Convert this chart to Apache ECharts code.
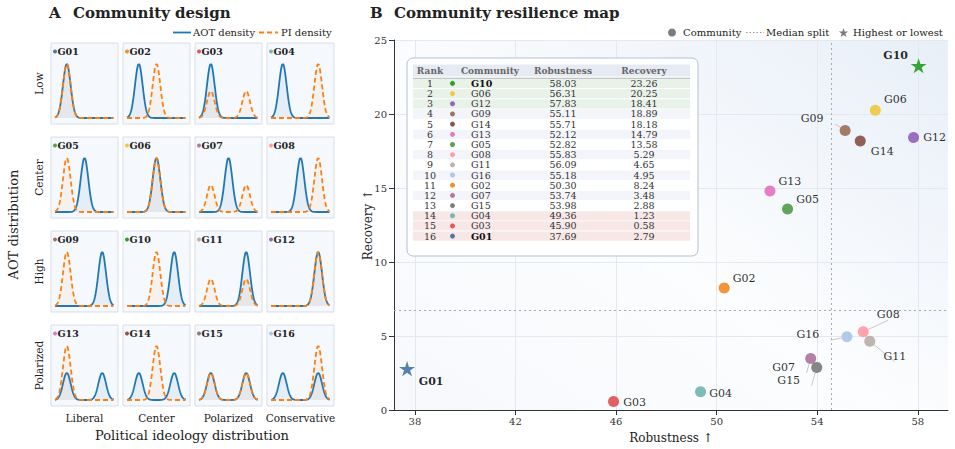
<!DOCTYPE html>
<html><head><meta charset="utf-8">
<script src="https://cdn.jsdelivr.net/npm/echarts@6/dist/echarts.min.js"></script>
<style>html,body{margin:0;padding:0;background:#fff}#c{width:955px;height:449px}</style>
</head><body><div id="c"></div>
<script>
// ---------------- DATA ----------------
const communities = ['G01','G02','G03','G04','G05','G06','G07','G08','G09','G10','G11','G12','G13','G14','G15','G16'];
const robustness  = [37.69, 50.30, 45.90, 49.36, 52.82, 56.31, 53.74, 55.83, 55.11, 58.03, 56.09, 57.83, 52.12, 55.71, 53.98, 55.18];
const recovery    = [2.79, 8.24, 0.58, 1.23, 13.58, 20.25, 3.48, 5.29, 18.89, 23.26, 4.65, 18.41, 14.79, 18.18, 2.88, 4.95];
const communityColors = ['#4e79a7','#f28e2b','#e15759','#76b7b2','#59a14f','#edc948','#b07aa1','#ff9da7','#9c755f','#2ca02c','#bab0ac','#9467bd','#e377c2','#8c564b','#7f7f7f','#aec7e8'];
const aotLevels = ['Low','Center','High','Polarized'];          // rows
const piLevels  = ['Liberal','Center','Polarized','Conservative']; // columns
const aotModes  = [[0.2],[0.5],[0.8],[0.2,0.8]];
const piModes   = [[0.2],[0.5],[0.2,0.8],[0.8]];
const densitySigma = 0.065;
const xTicks = [38,42,46,50,54,58];
const yTicks = [0,5,10,15,20,25];

// ---------------- STYLE / LAYOUT ----------------
const FONT = 'DejaVu Serif';
const labelOffsets = { G01:[24,13], G02:[20,-10], G03:[21,1], G04:[20,2], G05:[20,-10], G06:[20,-11], G07:[-27,9], G08:[25,-17],
  G09:[-33,-12], G10:[-23,-10], G11:[25,15], G12:[21,0], G13:[20,-10], G14:[22,11], G15:[-28,13], G16:[-39,-2] };
const leaderLabels = ['G07','G08','G09','G11','G15','G16'];

function starPts(cx, cy, R, r) {
  const p = [];
  for (let k = 0; k < 10; k++) {
    const a = -Math.PI / 2 + k * Math.PI / 5, rad = k % 2 ? r : R;
    p.push([cx + rad * Math.cos(a), cy + rad * Math.sin(a)]);
  }
  return p;
}
const starPath = 'path://' + starPts(50, 50, 50, 19.1).map((p, i) => (i ? 'L' : 'M') + p[0].toFixed(2) + ' ' + p[1].toFixed(2)).join(' ') + ' Z';

const chart = echarts.init(document.getElementById('c'), null, {renderer: 'svg', width: 955, height: 449});
const grids = [], xAxes = [], yAxes = [], series = [], graphics = [];

function txt(text, x, y, o) {
  o = o || {};
  return { type: 'text', x: x, y: y, rotation: o.rot || 0, z: 20, silent: true,
    style: { text: text, fontSize: o.size || 10, fontFamily: FONT, fontWeight: o.bold ? 'bold' : 'normal',
      fill: o.color || '#222', align: o.align || 'left', verticalAlign: 'middle' } };
}

// ---------------- PANEL A: small multiples ----------------
const xs = []; for (let k = 0; k <= 200; k++) xs.push(k / 200);
function density(modes, x) {
  let s = 0; modes.forEach(m => { s += Math.exp(-((x - m) * (x - m)) / (2 * densitySigma * densitySigma)); });
  return s / modes.length;
}
for (let r = 0; r < 4; r++) {
  for (let c = 0; c < 4; c++) {
    const i = r * 4 + c;
    const L = 51 + c * 72, T = 43 + r * 94;
    grids.push({ left: L, top: T, width: 67, height: 81, show: true, backgroundColor: '#f5f8fc', borderColor: '#d7dee9', borderWidth: 1 });
    xAxes.push({ type: 'value', gridIndex: i, min: -0.068, max: 1.068, show: false });
    yAxes.push({ type: 'value', gridIndex: i, min: -0.111, max: 1.389, show: false });
    series.push({ type: 'line', xAxisIndex: i, yAxisIndex: i, silent: true, symbol: 'none', z: 2,
      data: xs.map(x => [x, density(aotModes[r], x)]),
      lineStyle: { color: '#1f77b4', width: 1.8 }, areaStyle: { color: 'rgba(31,119,180,0.10)' } });
    series.push({ type: 'line', xAxisIndex: i, yAxisIndex: i, silent: true, symbol: 'none', z: 3,
      data: xs.map(x => [x, density(piModes[c], x)]),
      lineStyle: { color: '#ff7f0e', width: 1.8, type: [5, 3] }, areaStyle: { color: 'rgba(255,127,14,0.08)' } });
    graphics.push({ type: 'circle', z: 20, silent: true, shape: { cx: L + 4, cy: T + 8.5, r: 2 }, style: { fill: communityColors[i] } });
    graphics.push(txt(communities[i], L + 6.5, T + 8.5, { bold: true, size: 9.5 }));
  }
}
aotLevels.forEach((lv, r) => graphics.push(txt(lv, 39, 43 + r * 94 + 40.5, { rot: Math.PI / 2, align: 'center', size: 10.5 })));
piLevels.forEach((lv, c) => graphics.push(txt(lv, 51 + c * 72 + 33.5, 418, { align: 'center', size: 10.5 })));
graphics.push(txt('AOT distribution', 13, 224.5, { rot: Math.PI / 2, align: 'center', size: 13 }));
graphics.push(txt('Political ideology distribution', 192, 435, { align: 'center', size: 13 }));
graphics.push(txt('A', 49, 13, { bold: true, size: 15 }));
graphics.push(txt('Community design', 73, 13, { bold: true, size: 15 }));
// legend A
graphics.push({ type: 'line', z: 20, silent: true, shape: { x1: 173, y1: 32.5, x2: 191, y2: 32.5 }, style: { stroke: '#1f77b4', lineWidth: 1.8 } });
graphics.push(txt('AOT density', 193, 32.5, { size: 10 }));
graphics.push({ type: 'line', z: 20, silent: true, shape: { x1: 259, y1: 32.5, x2: 278, y2: 32.5 }, style: { stroke: '#ff7f0e', lineWidth: 1.8, lineDash: [5, 3] } });
graphics.push(txt('PI density', 281, 32.5, { size: 10 }));

// ---------------- PANEL B: scatter ----------------
const score = communities.map((_, i) => robustness[i] + recovery[i]);
const order = communities.map((_, i) => i).sort((a, b) => score[b] - score[a]);
const best = order[0], worst = order[order.length - 1];
function median(a) { const s = a.slice().sort((p, q) => p - q), n = s.length; return n % 2 ? s[(n - 1) / 2] : (s[n / 2 - 1] + s[n / 2]) / 2; }
const medR = median(robustness), medC = median(recovery);

const G = 16;
grids.push({ left: 394, top: 40, width: 554, height: 370, show: true, borderWidth: 0,
  backgroundColor: { type: 'linear', x: 0, y: 1, x2: 1, y2: 0, colorStops: [{ offset: 0, color: '#f7f8fc' }, { offset: 0.45, color: '#fcfdfe' }, { offset: 1, color: '#e8eff8' }] } });
const axisCommon = {
  axisLine: { show: true, lineStyle: { color: '#333', width: 1 } },
  axisTick: { show: true, length: 5, lineStyle: { color: '#333' } },
  splitLine: { show: true, lineStyle: { color: '#e4e8ef', width: 1 } },
  nameLocation: 'middle', nameMoveOverlap: false, nameTextStyle: { fontFamily: FONT, fontSize: 12, color: '#222' }
};
xAxes.push(Object.assign({}, axisCommon, { type: 'value', gridIndex: G, min: 37.17, max: 59.2, name: 'Robustness ↑', nameGap: 22,
  axisTick: { show: true, length: 5, lineStyle: { color: '#333' }, customValues: xTicks },
  axisLabel: { customValues: xTicks, fontFamily: FONT, fontSize: 10, color: '#333', margin: 6 } }));
yAxes.push(Object.assign({}, axisCommon, { type: 'value', gridIndex: G, min: yTicks[0], max: yTicks[yTicks.length - 1], interval: 5, name: 'Recovery ↑', nameGap: 20,
  axisLabel: { fontFamily: FONT, fontSize: 10, color: '#333', margin: 7 } }));

series.push({
  type: 'scatter', xAxisIndex: G, yAxisIndex: G, z: 5,
  data: communities.map((n, i) => {
    const ext = (i === best || i === worst);
    return {
      name: n, value: [robustness[i], recovery[i]],
      symbol: ext ? starPath : 'circle', symbolSize: ext ? 16 : 11, symbolKeepAspect: true,
      itemStyle: { color: communityColors[i], opacity: 0.95 },
      label: { offset: labelOffsets[n], fontWeight: ext ? 'bold' : 'normal' },
      labelLine: { show: leaderLabels.indexOf(n) >= 0, lineStyle: { color: '#c9c9c9', width: 1 } }
    };
  }),
  label: { show: true, position: 'inside', formatter: '{b}', color: '#1a1a1a', fontFamily: FONT, fontSize: 11, textBorderWidth: 0 },
  markLine: { silent: true, symbol: 'none', label: { show: false }, animation: false,
    lineStyle: { color: '#aaaaaa', width: 1, type: [2, 3] },
    data: [{ xAxis: medR }, { yAxis: medC }] }
});

graphics.push(txt('B', 370, 13, { bold: true, size: 15 }));
graphics.push(txt('Community resilience map', 394, 13, { bold: true, size: 15 }));
// legend B
graphics.push({ type: 'circle', z: 20, silent: true, shape: { cx: 672, cy: 32.5, r: 4 }, style: { fill: '#777c84' } });
graphics.push(txt('Community', 683, 32.5, { size: 10 }));
graphics.push({ type: 'line', z: 20, silent: true, shape: { x1: 746, y1: 32.5, x2: 764, y2: 32.5 }, style: { stroke: '#999', lineWidth: 1, lineDash: [1.5, 2] } });
graphics.push(txt('Median split', 766, 32.5, { size: 10 }));
graphics.push({ type: 'polygon', z: 20, silent: true, shape: { points: starPts(843.5, 33, 5, 1.9) }, style: { fill: '#777c84' } });
graphics.push(txt('Highest or lowest', 853, 32.5, { size: 10 }));

// table
graphics.push({ type: 'rect', z: 15, silent: true, shape: { x: 407, y: 58, width: 291, height: 198, r: 6 }, style: { fill: 'rgba(255,255,255,0.93)', stroke: '#b3c1d3', lineWidth: 1 } });
graphics.push({ type: 'rect', z: 16, silent: true, shape: { x: 413, y: 64.5, width: 277, height: 12 }, style: { fill: '#e6ebf3' } });
graphics.push({ type: 'line', z: 16, silent: true, shape: { x1: 413, y1: 78.3, x2: 690, y2: 78.3 }, style: { stroke: '#b8b8b8', lineWidth: 1.3 } });
const hdr = { color: '#666', bold: true, size: 9, align: 'center' };
graphics.push(txt('Rank', 430, 70.5, hdr));
graphics.push(txt('Community', 490, 70.5, hdr));
graphics.push(txt('Robustness', 563, 70.5, hdr));
graphics.push(txt('Recovery', 644, 70.5, hdr));
order.forEach((ci, k) => {
  const y = 83.4 + k * 10.18;
  const n = order.length;
  let bg = null;
  if (k < 3) bg = '#e8f2e8';
  else if (k >= n - 3) bg = '#f8e7e7';
  else if (k % 2 === 1) bg = '#f3f5fa';
  if (bg) graphics.push({ type: 'rect', z: 16, silent: true, shape: { x: 413, y: y - 4.6, width: 277, height: 9.3 }, style: { fill: bg } });
  const ext = (k === 0 || k === n - 1);
  graphics.push(txt(String(k + 1), 430, y, { size: 9.5, align: 'center', color: '#333' }));
  graphics.push({ type: 'circle', z: 20, silent: true, shape: { cx: 452.5, cy: y, r: 2.5 }, style: { fill: communityColors[ci] } });
  graphics.push(txt(communities[ci], 471, y, { size: 9.5, color: ext ? '#111' : '#333', bold: ext }));
  graphics.push(txt(robustness[ci].toFixed(2), 563, y, { size: 9.5, align: 'center', color: '#333' }));
  graphics.push(txt(recovery[ci].toFixed(2), 644, y, { size: 9.5, align: 'center', color: '#333' }));
});

chart.setOption({
  animation: false,
  backgroundColor: '#ffffff',
  grid: grids, xAxis: xAxes, yAxis: yAxes, series: series,
  graphic: { elements: graphics }
});
</script>
</body></html>
